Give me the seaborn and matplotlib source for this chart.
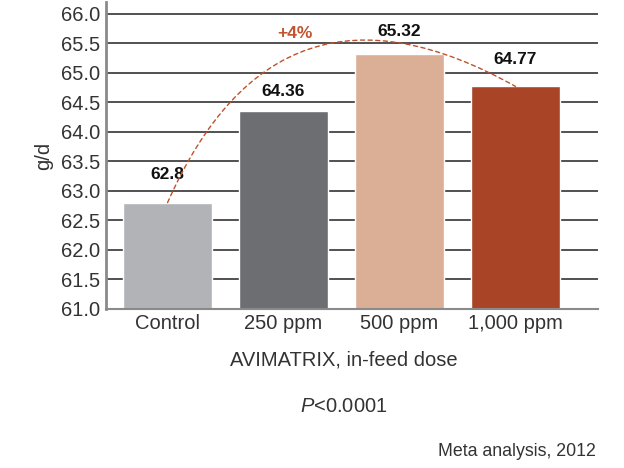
import pandas as pd
import seaborn as sns
import matplotlib.pyplot as plt

# --- Chart data ---
doses = ["Control", "250 ppm", "500 ppm", "1,000 ppm"]
gain = [62.8, 64.36, 65.32, 64.77]
value_labels = ["62.8", "64.36", "65.32", "64.77"]
bar_colors = ["#b1b3b6", "#6d6e71", "#dbae96", "#a94427"]
y_ticks = [61.0, 61.5, 62.0, 62.5, 63.0, 63.5, 64.0, 64.5, 65.0, 65.5, 66.0]
gain_label = "+4%"

sns.set_theme(style="white")
plt.rcParams["font.family"] = ["Liberation Sans", "DejaVu Sans"]
plt.rcParams["mathtext.fontset"] = "custom"
plt.rcParams["mathtext.it"] = "Liberation Sans:italic"
plt.rcParams["mathtext.rm"] = "Liberation Sans"

TXT = "#333333"
FS = 14.5

df = pd.DataFrame({"dose": doses, "gain": gain})

fig = plt.figure(figsize=(6.24, 4.68), dpi=100)
ax = fig.add_axes([0.170, 0.340, 0.788, 0.6557])

sns.barplot(data=df, x="dose", y="gain", hue="dose", palette=bar_colors,
            width=0.76, legend=False, ax=ax, saturation=1)

ax.set_ylim(61.0, 66.2)
ax.set_xlim(-0.53, 3.71)
ax.set_yticks(y_ticks)
ax.set_yticklabels([f"{t:.1f}" for t in y_ticks], fontsize=FS, color=TXT)
ax.tick_params(axis="both", length=0, pad=4)
ax.tick_params(axis="x", labelsize=FS, colors=TXT, pad=4)

# horizontal gridlines behind the bars
ax.set_axisbelow(True)
ax.yaxis.grid(True, color="#333333", linewidth=1.2)
ax.xaxis.grid(False)

for side in ["top", "right"]:
    ax.spines[side].set_visible(False)
ax.spines["left"].set_color("#8a8a8a")
ax.spines["left"].set_linewidth(2)
ax.spines["bottom"].set_color("#8a8a8a")
ax.spines["bottom"].set_linewidth(1.5)

ax.set_xlabel("")
ax.set_ylabel("g/d", fontsize=FS, color=TXT, labelpad=6)

# value labels above the bars
offsets = [0.47, 0.32, 0.38, 0.46]
for i, (v, lab) in enumerate(zip(gain, value_labels)):
    ax.text(i, v + offsets[i], lab, ha="center", va="center",
            fontsize=12.5, fontweight="bold", color="#111111")

# dashed arc from control to 1,000 ppm
ax.annotate("", xy=(3, gain[3]), xytext=(0, gain[0]),
            arrowprops=dict(arrowstyle="-", linestyle=(0, (3, 2.5)),
                            color="#c0502a", linewidth=1.0,
                            connectionstyle="arc3,rad=-0.55",
                            shrinkA=0, shrinkB=0))
ax.text(1.1, 65.66, gain_label, ha="center", va="center",
        fontsize=12.5, fontweight="bold", color="#c0552f")

fig.text(344 / 624, 1 - 360 / 468, "AVIMATRIX, in-feed dose",
         ha="center", va="center", fontsize=FS, color=TXT)
fig.text(344 / 624, 1 - 407 / 468, r"$P$<0.0001",
         ha="center", va="center", fontsize=FS, color=TXT)
fig.text(596 / 624, 1 - 452 / 468, "Meta analysis, 2012",
         ha="right", va="center", fontsize=12.8, color=TXT)

fig.savefig("out.png", dpi=100)
